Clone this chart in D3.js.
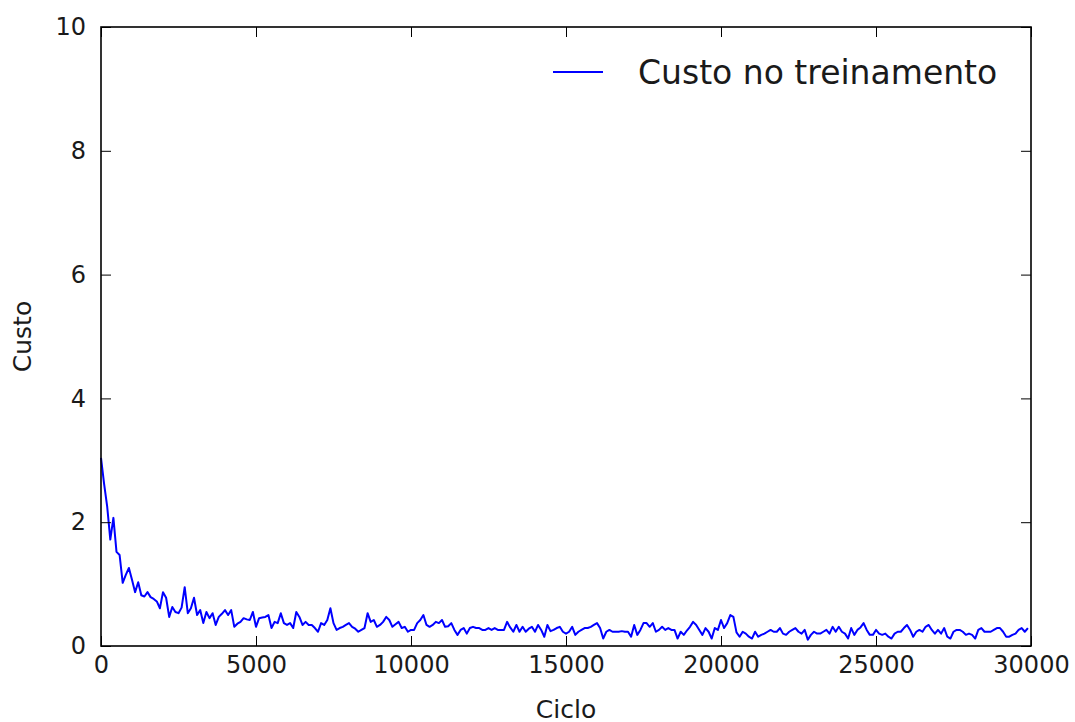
<!DOCTYPE html>
<html>
<head>
<meta charset="utf-8">
<script src="https://cdn.jsdelivr.net/npm/d3@7/dist/d3.min.js"></script>
<style>
  html, body { margin: 0; padding: 0; background: #ffffff; }
  svg { display: block; }
  text { font-family: "DejaVu Sans", sans-serif; fill: #1a1a1a; }
</style>
</head>
<body>
<svg id="grafico" width="1075" height="722"></svg>
<script>
// Training cost recorded every `passoCiclo` cycles
const passoCiclo = 100;
const custos = [
  // 0 - 4900
  3.04, 2.62, 2.25, 1.72, 2.07, 1.52, 1.47, 1.02, 1.15, 1.26,
  1.07, 0.87, 1.03, 0.82, 0.80, 0.87, 0.79, 0.76, 0.72, 0.61,
  0.87, 0.78, 0.47, 0.63, 0.55, 0.53, 0.62, 0.95, 0.53, 0.61,
  0.78, 0.50, 0.58, 0.37, 0.55, 0.45, 0.53, 0.34, 0.47, 0.52,
  0.58, 0.50, 0.58, 0.31, 0.36, 0.39, 0.45, 0.43, 0.42, 0.55,
  // 5000 - 9900
  0.31, 0.45, 0.46, 0.47, 0.50, 0.29, 0.39, 0.37, 0.53, 0.37,
  0.34, 0.37, 0.29, 0.55, 0.47, 0.34, 0.39, 0.34, 0.34, 0.29,
  0.23, 0.37, 0.34, 0.42, 0.61, 0.37, 0.26, 0.29, 0.31, 0.34,
  0.37, 0.31, 0.28, 0.23, 0.26, 0.29, 0.53, 0.39, 0.42, 0.31,
  0.34, 0.39, 0.47, 0.42, 0.31, 0.35, 0.39, 0.29, 0.31, 0.23,
  // 10000 - 14900
  0.26, 0.26, 0.37, 0.42, 0.50, 0.34, 0.31, 0.34, 0.39, 0.37,
  0.42, 0.31, 0.32, 0.37, 0.26, 0.18, 0.26, 0.29, 0.20, 0.29,
  0.31, 0.29, 0.29, 0.26, 0.26, 0.29, 0.26, 0.29, 0.26, 0.26,
  0.26, 0.39, 0.30, 0.23, 0.34, 0.23, 0.31, 0.23, 0.28, 0.31,
  0.23, 0.34, 0.26, 0.15, 0.34, 0.24, 0.26, 0.29, 0.31, 0.23,
  // 15000 - 19900
  0.20, 0.23, 0.31, 0.18, 0.23, 0.26, 0.29, 0.29, 0.31, 0.34,
  0.37, 0.29, 0.12, 0.23, 0.26, 0.23, 0.23, 0.23, 0.24, 0.23,
  0.23, 0.15, 0.34, 0.18, 0.26, 0.37, 0.37, 0.31, 0.37, 0.23,
  0.26, 0.31, 0.26, 0.29, 0.26, 0.26, 0.12, 0.23, 0.18, 0.25,
  0.31, 0.39, 0.34, 0.26, 0.18, 0.29, 0.23, 0.12, 0.29, 0.26,
  // 20000 - 24900
  0.42, 0.29, 0.37, 0.50, 0.47, 0.22, 0.15, 0.23, 0.20, 0.15,
  0.12, 0.23, 0.15, 0.18, 0.20, 0.23, 0.26, 0.23, 0.23, 0.29,
  0.20, 0.18, 0.23, 0.26, 0.29, 0.23, 0.20, 0.26, 0.10, 0.18,
  0.23, 0.20, 0.20, 0.23, 0.26, 0.20, 0.31, 0.23, 0.31, 0.23,
  0.20, 0.12, 0.29, 0.18, 0.26, 0.30, 0.37, 0.26, 0.18, 0.18,
  // 25000 - 29900
  0.26, 0.20, 0.18, 0.20, 0.15, 0.12, 0.20, 0.23, 0.23, 0.29,
  0.34, 0.26, 0.15, 0.23, 0.26, 0.23, 0.31, 0.34, 0.26, 0.20,
  0.26, 0.20, 0.29, 0.15, 0.12, 0.23, 0.26, 0.26, 0.23, 0.18,
  0.20, 0.18, 0.12, 0.26, 0.29, 0.23, 0.23, 0.23, 0.26, 0.29,
  0.29, 0.23, 0.15, 0.15, 0.18, 0.20, 0.26, 0.29, 0.23, 0.29
];

const ticksX = [0, 5000, 10000, 15000, 20000, 25000, 30000];
const ticksY = [0, 2, 4, 6, 8, 10];
const rotuloX = "Ciclo";
const rotuloY = "Custo";
const rotuloSerie = "Custo no treinamento";

const area = { esquerda: 101, direita: 1031, topo: 27, base: 646 };
const tamanhoTick = 10;

const svg = d3.select("#grafico");

const x = d3.scaleLinear().domain([0, 30000]).range([area.esquerda, area.direita]);
const y = d3.scaleLinear().domain([0, 10]).range([area.base, area.topo]);

const pontos = custos.map((c, i) => ({ ciclo: i * passoCiclo, custo: c }));

// Cost curve
const linha = d3.line()
  .x(d => x(d.ciclo))
  .y(d => y(d.custo));

svg.append("path")
  .datum(pontos)
  .attr("d", linha)
  .attr("fill", "none")
  .attr("stroke", "#0000ff")
  .attr("stroke-width", 2)
  .attr("stroke-linejoin", "round");

// Inward-pointing ticks on all four sides
function estiloEixo(g) {
  g.select(".domain").remove();
  g.selectAll(".tick line").attr("stroke", "#000").attr("stroke-width", 1);
  g.selectAll(".tick text").attr("font-size", 24).style("fill", "#1a1a1a");
}

svg.append("g")
  .attr("transform", `translate(0,${area.base})`)
  .call(d3.axisBottom(x).tickValues(ticksX).tickFormat(d3.format("d"))
    .tickSize(-tamanhoTick).tickPadding(10))
  .call(estiloEixo);

svg.append("g")
  .attr("transform", `translate(${area.esquerda},0)`)
  .call(d3.axisLeft(y).tickValues(ticksY).tickFormat(d3.format("d"))
    .tickSize(-tamanhoTick).tickPadding(15))
  .call(estiloEixo);

svg.append("g")
  .attr("transform", `translate(0,${area.topo})`)
  .call(d3.axisTop(x).tickValues(ticksX).tickFormat("").tickSize(-tamanhoTick))
  .call(estiloEixo);

svg.append("g")
  .attr("transform", `translate(${area.direita},0)`)
  .call(d3.axisRight(y).tickValues(ticksY).tickFormat("").tickSize(-tamanhoTick))
  .call(estiloEixo);

// Frame
svg.append("rect")
  .attr("x", area.esquerda)
  .attr("y", area.topo)
  .attr("width", area.direita - area.esquerda)
  .attr("height", area.base - area.topo)
  .attr("fill", "none")
  .attr("stroke", "#000")
  .attr("stroke-width", 1.6);

// Axis titles
svg.append("text")
  .attr("x", (area.esquerda + area.direita) / 2)
  .attr("y", 718)
  .attr("text-anchor", "middle")
  .attr("font-size", 25)
  .text(rotuloX);

svg.append("text")
  .attr("transform", `translate(31,${(area.topo + area.base) / 2}) rotate(-90)`)
  .attr("text-anchor", "middle")
  .attr("font-size", 25)
  .text(rotuloY);

// Legend
const legenda = svg.append("g");
legenda.append("line")
  .attr("x1", 553).attr("x2", 603)
  .attr("y1", 72).attr("y2", 72)
  .attr("stroke", "#0000ff")
  .attr("stroke-width", 2);
legenda.append("text")
  .attr("x", 638)
  .attr("y", 84)
  .attr("font-size", 33)
  .text(rotuloSerie);
</script>
</body>
</html>
